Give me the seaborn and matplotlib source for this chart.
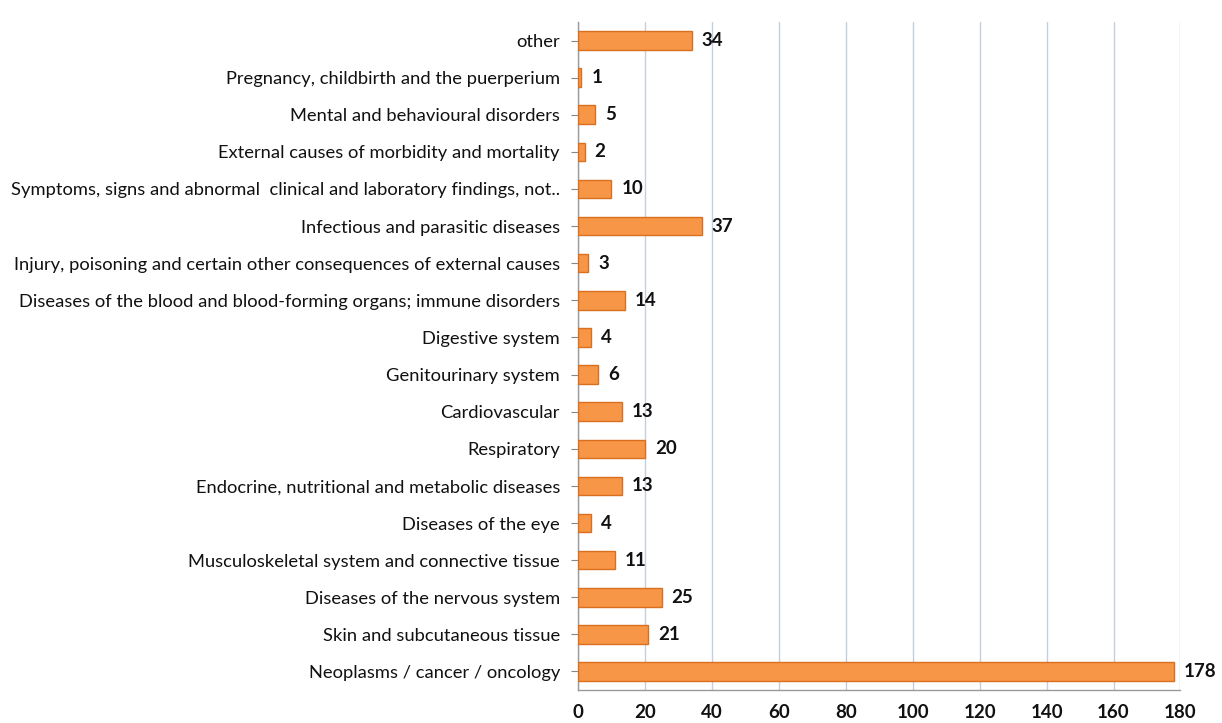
import matplotlib
matplotlib.use('Agg')
import matplotlib.pyplot as plt
import seaborn as sns
import pandas as pd

# categories listed top to bottom as in the chart
categories = [
    'other',
    'Pregnancy, childbirth and the puerperium',
    'Mental and behavioural disorders',
    'External causes of morbidity and mortality',
    'Symptoms, signs and abnormal  clinical and laboratory findings, not..',
    'Infectious and parasitic diseases',
    'Injury, poisoning and certain other consequences of external causes',
    'Diseases of the blood and blood-forming organs; immune disorders',
    'Digestive system',
    'Genitourinary system',
    'Cardiovascular',
    'Respiratory',
    'Endocrine, nutritional and metabolic diseases',
    'Diseases of the eye',
    'Musculoskeletal system and connective tissue',
    'Diseases of the nervous system',
    'Skin and subcutaneous tissue',
    'Neoplasms / cancer / oncology',
]
counts = [34, 1, 5, 2, 10, 37, 3, 14, 4, 6, 13, 20, 13, 4, 11, 25, 21, 178]
x_ticks = [0, 20, 40, 60, 80, 100, 120, 140, 160, 180]

df = pd.DataFrame({'category': categories, 'count': counts})

sns.set_style('white')
plt.rcParams['font.family'] = ['Lato', 'DejaVu Sans']

fig = plt.figure(figsize=(12.22, 7.23), dpi=100)
ax = fig.add_axes([0.473, 0.0456, 0.493, 0.924])

sns.barplot(data=df, x='count', y='category', orient='h', color='#f79646',
            saturation=1, width=0.5, edgecolor='#d9701f', linewidth=1.0,
            ax=ax, zorder=3)

for i, v in enumerate(counts):
    ax.text(v + 3, i, str(v), va='center', ha='left', fontsize=13.5,
            fontweight='bold', color='#111111')

ax.set_xlim(0, 180)
ax.set_ylim(len(categories) - 0.5, -0.5)
ax.set_xticks(x_ticks)
ax.set_xticklabels([str(t) for t in x_ticks], fontsize=13.5, fontweight='bold',
                   color='#111111')
ax.tick_params(axis='x', length=0, pad=10)
ax.tick_params(axis='y', labelsize=13.2, labelcolor='#111111', length=5,
               color='#888888', left=True, pad=8)
ax.xaxis.grid(True, color='#c3d0dc', linewidth=1.0, zorder=0)
ax.set_xlabel('')
ax.set_ylabel('')

for s in ['top', 'right']:
    ax.spines[s].set_visible(False)
for s in ['left', 'bottom']:
    ax.spines[s].set_color('#999999')
    ax.spines[s].set_linewidth(1.0)

fig.savefig('out.png', dpi=100)
